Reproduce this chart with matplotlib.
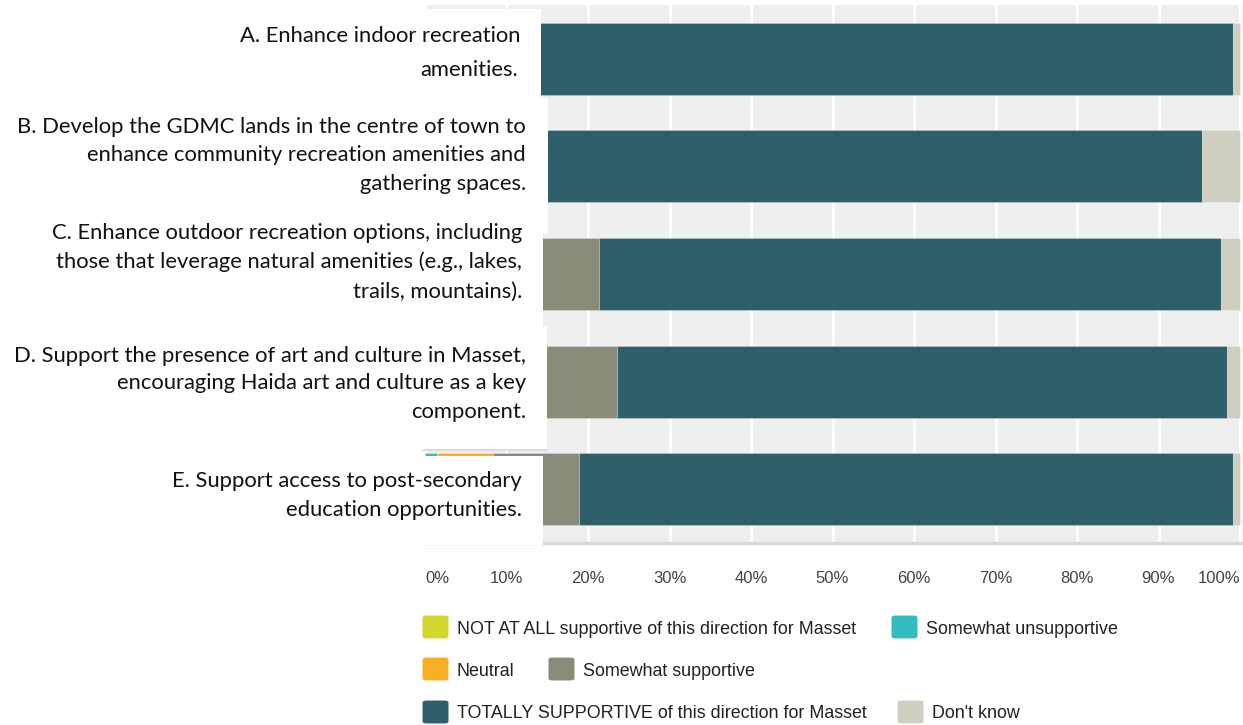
import matplotlib
matplotlib.use('Agg')
import matplotlib.pyplot as plt
from matplotlib.patches import Rectangle, FancyBboxPatch
import numpy as np

W, H = 1243, 725

# survey statements (label lines as they wrap in the picture)
label_lines = [
    ['A. Enhance indoor recreation', 'amenities.'],
    ['B. Develop the GDMC lands in the centre of town to',
     'enhance community recreation amenities and',
     'gathering spaces.'],
    ['C. Enhance outdoor recreation options, including',
     'those that leverage natural amenities (e.g., lakes,',
     'trails, mountains).'],
    ['D. Support the presence of art and culture in Masset,',
     'encouraging Haida art and culture as a key',
     'component.'],
    ['E. Support access to post-secondary',
     'education opportunities.'],
]

# percentages per response (A..E)
not_at_all = [0.0, 2.0, 1.0, 1.5, 0.0]
somewhat_unsup = [0.0, 1.5, 1.0, 1.5, 1.5]
neutral = [3.0, 4.0, 5.0, 6.0, 6.9]
somewhat_sup = [9.0, 6.5, 14.4, 14.6, 10.5]
totally = [87.1, 81.3, 76.3, 74.8, 80.2]
dont_know = [0.9, 4.7, 2.3, 1.6, 0.9]

series_names = ['NOT AT ALL supportive of this direction for Masset',
                'Somewhat unsupportive', 'Neutral', 'Somewhat supportive',
                'TOTALLY SUPPORTIVE of this direction for Masset', "Don't know"]
series_vals = [not_at_all, somewhat_unsup, neutral, somewhat_sup, totally, dont_know]
colors = ['#d3d62b', '#33bdbe', '#f7b024', '#898a78', '#2f5e6b', '#d0cec0']

xticks = [0, 10, 20, 30, 40, 50, 60, 70, 80, 90, 100]
xtick_labels = [f'{t}%' for t in xticks]

fig = plt.figure(figsize=(W / 100, H / 100), dpi=100)


def fx(px):
    return px / W


def fy(py):
    return 1 - py / H


# plot area: 0% at x=425, 100% at x=1240, y from 5 to 543
ax = fig.add_axes([fx(425), fy(543), fx(W - 425), (543 - 5) / H])
ax.set_facecolor('#efefef')
ypos = np.arange(len(label_lines))
left = np.zeros(len(ypos))
for vals, c in zip(series_vals, colors):
    ax.barh(ypos, vals, left=left, height=0.67, color=c,
            edgecolor=(1, 1, 1, 0.25), linewidth=0.8)
    left += np.array(vals)

ax.set_xlim(0, 100 * (W - 425) / 815)
ax.set_ylim(len(ypos) - 0.5, -0.5)
ax.set_yticks([])
ax.set_xticks(xticks)
ax.set_xticklabels(xtick_labels, fontsize=12, color='#444444',
                   family='Liberation Sans')
tl = ax.get_xticklabels()
tl[0].set_ha('left')
tl[-1].set_ha('right')
ax.tick_params(axis='x', length=0, pad=20)
ax.set_axisbelow(True)
ax.grid(axis='x', color='white', linewidth=2)
for s in ['top', 'left', 'right']:
    ax.spines[s].set_visible(False)
ax.spines['bottom'].set_color('#dadada')
ax.spines['bottom'].set_linewidth(2.5)

# white label boxes pasted over the chart
boxes = [(0, 9, 541, 98), (0, 98, 548, 233), (0, 233, 543, 327),
         (0, 327, 547, 449), (0, 455.5, 543, 545)]
for x0, y0, x1, y1 in boxes:
    fig.add_artist(Rectangle((fx(x0), fy(y1)), fx(x1 - x0), (y1 - y0) / H,
                             transform=fig.transFigure, facecolor='white',
                             edgecolor='none', zorder=5))
fig.add_artist(plt.Line2D([fx(423), fx(547)], [fy(449.5), fy(449.5)],
                          transform=fig.transFigure, color='#d8d8d8', lw=1.2, zorder=5))

line_pos = [
    [(520, 36), (518, 70)],
    [(526, 127), (526, 155), (526, 184)],
    [(522, 233), (522, 262), (522, 292)],
    [(526, 356), (526, 383), (526, 412)],
    [(522, 481), (522, 510)],
]
for lines, pos in zip(label_lines, line_pos):
    for txt, (x, y) in zip(lines, pos):
        fig.text(fx(x), fy(y), txt, ha='right', va='center', fontsize=15.8,
                 family='Lato', color='#111111', zorder=6)

# legend laid out in rows like the original
legend_rows = [[(0, 423), (1, 892)], [(2, 423), (3, 549)], [(4, 423), (5, 898)]]
row_y = [627, 669, 712]
for row, yy in zip(legend_rows, row_y):
    for idx, x in row:
        fig.add_artist(FancyBboxPatch((fx(x + 2), fy(yy + 10)), fx(21), 20 / H,
                                      boxstyle='round,pad=0.002,rounding_size=0.003',
                                      transform=fig.transFigure,
                                      facecolor=colors[idx], edgecolor='none'))
        fig.text(fx(x + 34), fy(yy + 2), series_names[idx], ha='left', va='center',
                 fontsize=12.9, family='Liberation Sans', color='#222222')

fig.savefig('out.png', dpi=100, facecolor='white')
